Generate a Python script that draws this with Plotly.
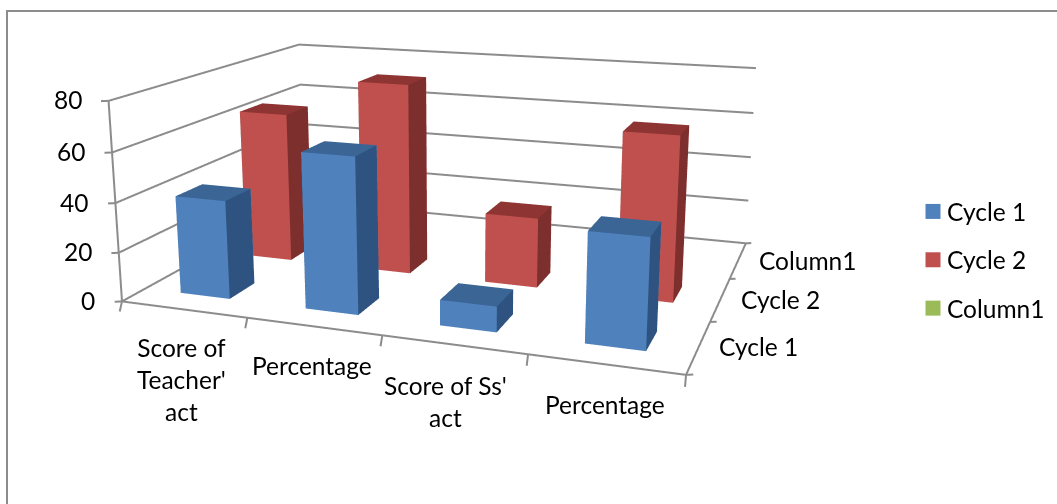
import plotly.graph_objects as go

categories = ["Score of<br>Teacher'<br>act", "Percentage", "Score of Ss'<br>act", "Percentage"]
series_names = ["Cycle 1", "Cycle 2", "Column1"]
cycle_1 = [40, 62, 10, 42]
cycle_2 = [64, 80, 29, 67]
column_1 = [None, None, None, None]
value_ticks = [0, 20, 40, 60, 80]

SERIES_VALUES = [cycle_1, cycle_2, column_1]
FACE_COLOURS = [
    ("#4F81BD", "#2F5380", "#3A6594"),
    ("#C0504D", "#7C2F2D", "#8E3533"),
    ("#9BBB59", "#66803A", "#7A9444"),
]
GREY = "#8C8C8C"
FONT = "Lato"
FONT_SIZE = 24.5

FIG_W, FIG_H = 1057, 1055
PAGE_TOP = 349  # the drawing is framed by the part of the page below this offset
N_CAT, N_ROW, Z_MAX = len(categories), len(series_names), value_ticks[-1]
BAR_W, BAR_D = 0.4, 0.38
BAR_DX = -0.005

# Symmetric padding of the scene ranges keeps frame lines off the clipping bounds
PAD_X, PAD_Y, PAD_Z = 0.5, 0.375, 10
ASPECT_X = 2.125 * (N_CAT + 2 * PAD_X) / N_CAT
ASPECT_Y = 1.55 * (N_ROW + 2 * PAD_Y) / N_ROW
ASPECT_Z = 0.768 * (Z_MAX + 2 * PAD_Z) / Z_MAX


def bar_mesh(cat, row, value, colours, name):
    """One cuboid: a box standing on the floor of the scene."""
    cx, cy = cat + 0.5 + BAR_DX, row + 0.5
    x0, x1 = cx - BAR_W / 2, cx + BAR_W / 2
    y0, y1 = cy - BAR_D / 2, cy + BAR_D / 2
    xs = [x0, x1, x1, x0, x0, x1, x1, x0]
    ys = [y0, y0, y1, y1, y0, y0, y1, y1]
    zs = [0, 0, 0, 0, value, value, value, value]
    front, side, top = colours
    tris = [
        (0, 1, 5, front), (0, 5, 4, front),
        (1, 2, 6, side), (1, 6, 5, side),
        (4, 5, 6, top), (4, 6, 7, top),
        (3, 2, 6, front), (3, 6, 7, front),
        (0, 3, 7, side), (0, 7, 4, side),
        (0, 1, 2, top), (0, 2, 3, top),
    ]
    return go.Mesh3d(
        x=xs, y=ys, z=zs,
        i=[t[0] for t in tris], j=[t[1] for t in tris], k=[t[2] for t in tris],
        facecolor=[t[3] for t in tris], flatshading=True,
        lighting=dict(ambient=1, diffuse=0, specular=0, roughness=1, fresnel=0),
        hoverinfo="name", name=name, showlegend=False, showscale=False,
    )


fig = go.Figure()

# Walls, floor edges and tick marks of the 3D frame
lx, ly, lz = [], [], []


def seg(*pts):
    for p in pts:
        lx.append(p[0]); ly.append(p[1]); lz.append(p[2])
    lx.append(None); ly.append(None); lz.append(None)


for v in value_ticks:
    seg((0, 0, v), (0, N_ROW, v), (N_CAT, N_ROW, v))
    seg((-0.044, -0.025, v), (0, 0, v))
seg((0, 0, 0), (0, 0, Z_MAX))
seg((0, 0, 0), (N_CAT, 0, 0), (N_CAT, N_ROW, 0))
for c in range(N_CAT + 1):
    # the sideways part of the offset keeps each tick upright on screen
    seg((c, 0, 0), (c + 0.105 - 0.02 * c, -0.19, 0))
for r in range(N_ROW + 1):
    seg((N_CAT, r, 0), (N_CAT + 0.041, r + 0.02, 0))
fig.add_trace(go.Scatter3d(x=lx, y=ly, z=lz, mode="lines", line=dict(color=GREY, width=4),
                           hoverinfo="skip", showlegend=False))

for row, (name, values, colours) in enumerate(zip(series_names, SERIES_VALUES, FACE_COLOURS)):
    for cat, value in enumerate(values):
        if value is not None:
            fig.add_trace(bar_mesh(cat, row, value, colours, name))

# Legend keys
for name, colours in zip(series_names, FACE_COLOURS):
    fig.add_trace(go.Scatter(x=[None], y=[None], mode="markers", name=name, legendgroup=name,
                             marker=dict(symbol="square", size=15, color=colours[0])))

# Axis text anchored to the scene
txt = dict(showarrow=False, font=dict(family=FONT, size=FONT_SIZE, color="#000000"))
annotations = []
for v in value_ticks:
    annotations.append(dict(x=0, y=0, z=v, text=str(v), xanchor="right", yanchor="middle",
                            xshift=-25, yshift=1, **txt))
for c, (label, dx, dy) in enumerate(zip(categories, [-2, -2, -8, 0], [-22, -23, -24, -24])):
    annotations.append(dict(x=c + 0.5, y=0, z=0, text=label, xanchor="center", yanchor="top",
                            xshift=dx, yshift=dy, **txt))
for r, (label, dx) in enumerate(zip(series_names, [18, 19, 19])):
    annotations.append(dict(x=N_CAT, y=r + 0.5, z=0, text=label, xanchor="left", yanchor="middle",
                            xshift=dx, **txt))

hidden = dict(visible=False, showgrid=False, zeroline=False, showspikes=False, showbackground=False)
fig.update_layout(
    width=FIG_W, height=FIG_H, autosize=False,
    margin=dict(l=0, r=0, t=0, b=0),
    paper_bgcolor="white", plot_bgcolor="rgba(0,0,0,0)",
    xaxis=dict(visible=False), yaxis=dict(visible=False),
    scene=dict(
        domain=dict(x=[0, 912 / FIG_W], y=[0, 1]),
        xaxis=dict(range=[-PAD_X, N_CAT + PAD_X], **hidden),
        yaxis=dict(range=[-PAD_Y, N_ROW + PAD_Y], **hidden),
        zaxis=dict(range=[-PAD_Z, Z_MAX + PAD_Z], **hidden),
        aspectmode="manual",
        aspectratio=dict(x=ASPECT_X, y=ASPECT_Y, z=ASPECT_Z),
        camera=dict(eye=dict(x=1.641, y=-4.645, z=1.227), center=dict(x=0, y=0, z=0),
                    up=dict(x=0.002, y=-0.009, z=1), projection=dict(type="perspective")),
        annotations=annotations,
        bgcolor="rgba(0,0,0,0)",
    ),
    legend=dict(x=907 / FIG_W, y=1 - (189 + PAGE_TOP) / FIG_H, xanchor="left", yanchor="top",
                font=dict(family=FONT, size=FONT_SIZE, color="#000000"),
                tracegroupgap=13.5, traceorder="grouped", bgcolor="rgba(0,0,0,0)"),
    shapes=[dict(type="rect", xref="paper", yref="paper", x0=7 / FIG_W, x1=1.05,
                 y0=-0.1, y1=1 - (11 + PAGE_TOP) / FIG_H,
                 line=dict(color=GREY, width=2), fillcolor="rgba(0,0,0,0)")],
    showlegend=True,
)

frame_script = f"""
var gd = document.getElementById('{{plot_id}}');
var wrap = gd.parentElement;
wrap.style.cssText = 'position:fixed;left:0;top:0;width:1057px;height:504px;overflow:hidden';
gd.style.position = 'absolute';
gd.style.left = '0';
gd.style.top = '-{PAGE_TOP}px';
gd.querySelectorAll('.legendsymbols').forEach(function (g) {{
    g.setAttribute('transform', 'translate(6,0)');
}});
"""
fig.write_html("out.html", post_script=frame_script)
